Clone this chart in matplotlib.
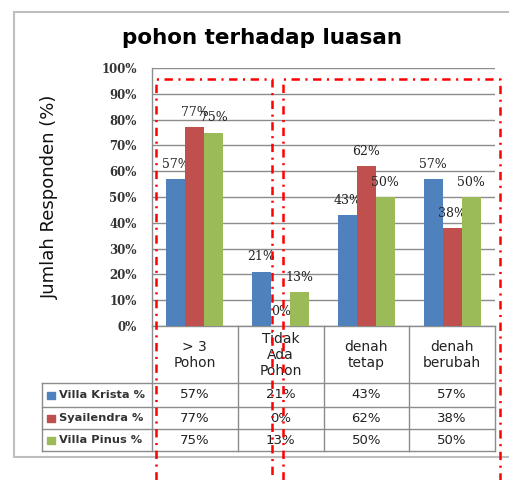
import numpy as np
import matplotlib
matplotlib.use("Agg")
import matplotlib.pyplot as plt
from matplotlib.patches import Rectangle

plt.rcParams['lines.scale_dashes'] = False

# data
categories = ["> 3\nPohon", "Tidak\nAda\nPohon", "denah\ntetap", "denah\nberubah"]
series_names = ["Villa Krista %", "Syailendra %", "Villa Pinus %"]
villa_krista = [57, 21, 43, 57]
syailendra = [77, 0, 62, 38]
villa_pinus = [75, 13, 50, 50]
colors = ["#4F81BD", "#C0504D", "#9BBB59"]
yticks = list(range(0, 101, 10))

W, H = 510, 480
fig = plt.figure(figsize=(W / 100, H / 100), dpi=100)

ax = fig.add_axes([152 / W, 1 - 326 / H, 343 / W, 258 / H])
x = np.arange(len(categories))
bw = 0.222
grid_c = "#8C8C8C"
for k, vals in enumerate([villa_krista, syailendra, villa_pinus]):
    bars = ax.bar(x + (k - 1) * bw, vals, bw, color=colors[k], zorder=3)
    ax.bar_label(bars, labels=[f"{v}%" for v in vals], padding=6,
                 fontsize=9, family="DejaVu Serif", color="#222")

ax.set_xlim(-0.5, len(categories) - 0.5)
ax.set_ylim(0, 100)
ax.set_yticks(yticks)
ax.set_yticklabels([f"{t}%" for t in yticks], family="DejaVu Serif",
                   fontsize=8.5, fontweight="bold", color="#333")
ax.set_xticks([])
ax.tick_params(axis="y", length=0, pad=11)
ax.grid(axis="y", color=grid_c, lw=1, zorder=0)
for s in ["top", "right"]:
    ax.spines[s].set_visible(False)
for s in ["left", "bottom"]:
    ax.spines[s].set_color(grid_c)
    ax.spines[s].set_linewidth(1)

# overlay in pixel coordinates
ov = fig.add_axes([0, 0, 1, 1], zorder=5)
ov.set_xlim(0, W)
ov.set_ylim(H, 0)
ov.axis("off")


def xpix(v):
    return ov.transData.inverted().transform(ax.transData.transform((v, 0)))[0]


fig.text(262 / W, 1 - 38 / H, "pohon terhadap luasan", ha="center", va="center",
         fontsize=15.5, fontweight="bold", family="DejaVu Sans")
fig.text(50 / W, 1 - 197 / H, "Jumlah Responden (%)", rotation=90,
         ha="center", va="center", fontsize=13, family="DejaVu Sans", color="#111")

# data table
tc = "#8C8C8C"
left_px = 42
right_px = xpix(len(categories) - 0.5)
row_y = [383, 407, 429, 451]
for y in row_y:
    ov.plot([left_px, right_px], [y, y], color=tc, lw=1)
ov.plot([left_px, left_px], [row_y[0], row_y[-1]], color=tc, lw=1)
for i in range(len(categories) + 1):
    xp = xpix(i - 0.5)
    ov.plot([xp, xp], [326, row_y[-1]], color=tc, lw=1)

for i, cat in enumerate(categories):
    ov.text(xpix(i), 355, cat, ha="center", va="center", fontsize=10,
            family="DejaVu Sans", color="#222", linespacing=1.15)

for r, (name, vals) in enumerate(zip(series_names, [villa_krista, syailendra, villa_pinus])):
    yc = (row_y[r] + row_y[r + 1]) / 2
    ov.add_patch(Rectangle((47, yc - 3.5), 8, 7, color=colors[r]))
    ov.text(59, yc, name, ha="left", va="center", fontsize=8.2, fontweight="bold",
            family="DejaVu Sans", color="#333")
    for i, v in enumerate(vals):
        ov.text(xpix(i), yc, f"{v}%", ha="center", va="center", fontsize=9.5,
                family="DejaVu Sans", color="#222")

# chart border
ov.plot([14, 14, W], [12, 457, 457], color="#BEBEBE", lw=1.5)
ov.plot([14, W], [12, 12], color="#BEBEBE", lw=1.5)

# red dash-dot boxes
dd = (0, (6, 4, 1.5, 4))
for x0, x1 in [(156, 272), (283, 500)]:
    ov.plot([x0, x0, x1, x1], [H, 79, 79, H], color="red", lw=1.8, ls=dd, zorder=10)

fig.savefig("out.png", dpi=100)
